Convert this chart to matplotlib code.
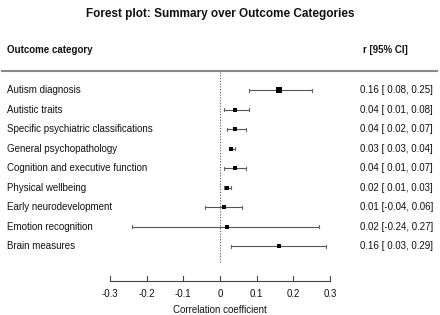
import matplotlib.pyplot as plt
import numpy as np

# datos del forest plot
categorias = ['Autism diagnosis', 'Autistic traits', 'Specific psychiatric classifications',
              'General psychopathology', 'Cognition and executive function', 'Physical wellbeing',
              'Early neurodevelopment', 'Emotion recognition', 'Brain measures']
r = [0.16, 0.04, 0.04, 0.03, 0.04, 0.02, 0.01, 0.02, 0.16]
ci_low = [0.08, 0.01, 0.02, 0.03, 0.01, 0.01, -0.04, -0.24, 0.03]
ci_high = [0.25, 0.08, 0.07, 0.04, 0.07, 0.03, 0.06, 0.27, 0.29]
pesos = [5.5, 4.8, 4.8, 5, 4.8, 4.5, 4.5, 4.5, 4.5]  # tamaño del cuadrado (px)
ticks = [-0.3, -0.2, -0.1, 0, 0.1, 0.2, 0.3]
tick_labels = ['-0.3', '-0.2', '-0.1', '0', '0.1', '0.2', '0.3']

plt.rcParams['font.family'] = ['Liberation Sans', 'DejaVu Sans']

fig = plt.figure(figsize=(4.4, 3.15), dpi=100)
ax = fig.add_axes([0, 0, 1, 1])
ax.set_xlim(-0.6, 0.6)
ax.set_ylim(315, 0)
ax.axis('off')

px = 1.2 / 440  # ancho de un pixel en unidades de r

# filas
y0, dy = 90.3, 19.5
ys = y0 + dy * np.arange(len(categorias))

ax.text(0, 14, 'Forest plot: Summary over Outcome Categories', ha='center', va='center',
        fontsize=8.5, fontweight='bold', color='#111111')
ax.text(-0.6 + 7 * px, 50, 'Outcome category', ha='left', va='center', fontsize=7,
        fontweight='bold', color='#111111')
ax.text(-0.6 + 363 * px, 50, 'r [95% CI]', ha='left', va='center', fontsize=7,
        fontweight='bold', color='#111111')
ax.plot([-0.6 + 1 * px, 0.6 - 2 * px], [71, 71], color='#888888', lw=1.5, solid_capstyle='butt')

# linea de referencia en 0
ax.plot([0, 0], [72, 262], color='#555555', lw=0.8, ls=(0, (1, 1.5)))

for i in range(len(categorias)):
    y = ys[i]
    ax.plot([ci_low[i], ci_high[i]], [y, y], color='#555555', lw=0.8)
    for e in (ci_low[i], ci_high[i]):
        ax.plot([e, e], [y - 1.6, y + 1.6], color='#666666', lw=0.8)
    ax.plot(r[i], y, marker='s', color='black', markersize=pesos[i] * 0.72, markeredgewidth=0)
    ax.text(-0.6 + 7 * px, y, categorias[i], ha='left', va='center', fontsize=7, color='#111111')
    ax.text(-0.6 + 433 * px, y, '%.2f [%5.2f, %.2f]' % (r[i], ci_low[i], ci_high[i]),
            ha='right', va='center', fontsize=7, color='#111111')

# eje x
ax.plot([ticks[0], ticks[-1]], [281, 281], color='#444444', lw=0.8)
for t, lab in zip(ticks, tick_labels):
    ax.plot([t, t], [276, 281], color='#444444', lw=0.8)
    ax.text(t, 294, lab, ha='center', va='center', fontsize=7, color='#111111')
ax.text(0, 310, 'Correlation coefficient', ha='center', va='center', fontsize=7, color='#111111')

fig.savefig('out.png', dpi=100)
